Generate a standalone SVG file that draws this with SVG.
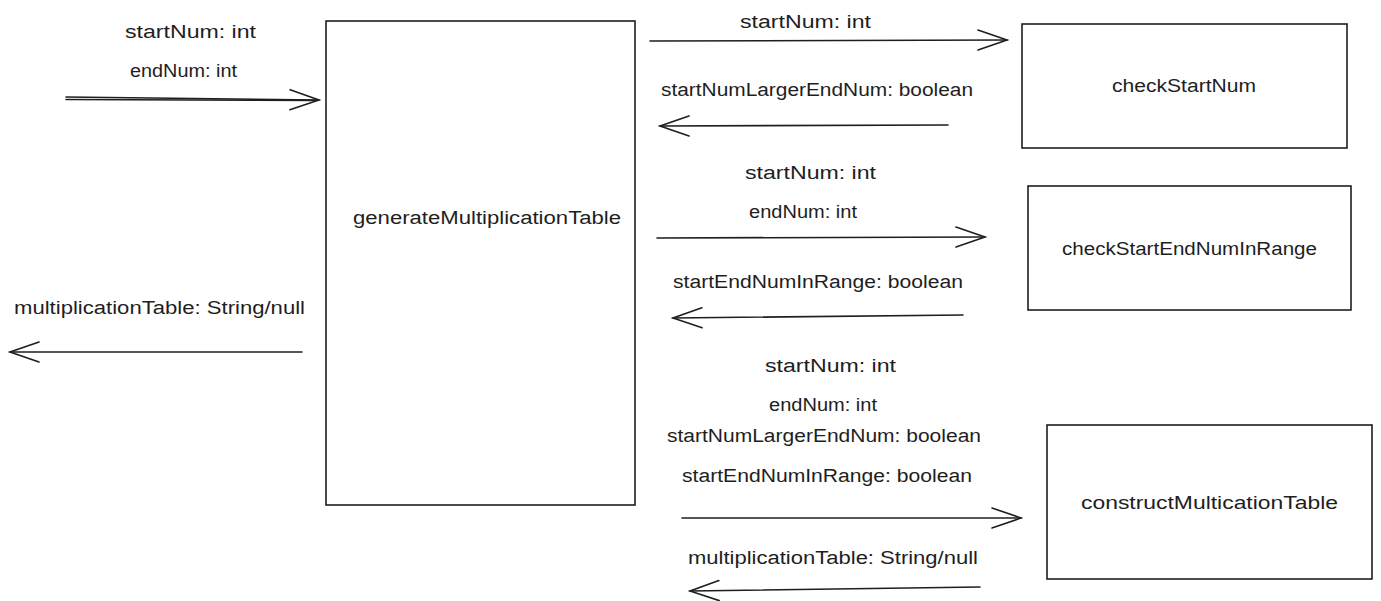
<svg xmlns="http://www.w3.org/2000/svg" width="1381" height="601" viewBox="0 0 1381 601">
<style>
.box{fill:#fff;stroke:#1e1e1e;stroke-width:1.6}
.c{fill:none;stroke:#1e1e1e;stroke-width:1.6;stroke-linecap:round}
text{font-family:"Liberation Sans",Arial,sans-serif;font-size:18px;fill:#1e1e1e}
</style>
<defs>
<marker id="ah" markerUnits="userSpaceOnUse" markerWidth="40" markerHeight="30" viewBox="-32 -15 40 30" refX="0" refY="0" orient="auto">
<path d="M-29,-10 L0,0 L-29,10" fill="none" stroke="#1e1e1e" stroke-width="1.6" stroke-linecap="round"/>
</marker>
</defs>
<rect width="1381" height="601" fill="#fff"/>
<g id="generateMultiplicationTable">
<rect class="box" x="326" y="21" width="309" height="484"/>
<text x="353" y="224" textLength="268" lengthAdjust="spacingAndGlyphs">generateMultiplicationTable</text>
</g>
<g id="checkStartNum">
<rect class="box" x="1022" y="24" width="325" height="124"/>
<text x="1112" y="92" textLength="144" lengthAdjust="spacingAndGlyphs">checkStartNum</text>
</g>
<g id="checkStartEndNumInRange">
<rect class="box" x="1028" y="186" width="323" height="124"/>
<text x="1062" y="255" textLength="255" lengthAdjust="spacingAndGlyphs">checkStartEndNumInRange</text>
</g>
<g id="constructMulticationTable">
<rect class="box" x="1047" y="425" width="325" height="154"/>
<text x="1081" y="509" textLength="257" lengthAdjust="spacingAndGlyphs">constructMulticationTable</text>
</g>
<g id="connectors">
<line class="c" x1="66" y1="97" x2="319" y2="100" marker-end="url(#ah)"/>
<line class="c" x1="66" y1="99.5" x2="316" y2="100.5"/>
<line class="c" x1="302" y1="352" x2="10" y2="352" marker-end="url(#ah)"/>
<line class="c" x1="650" y1="41" x2="1007" y2="40" marker-end="url(#ah)"/>
<line class="c" x1="948" y1="125" x2="660" y2="126" marker-end="url(#ah)"/>
<line class="c" x1="657" y1="238" x2="985" y2="237" marker-end="url(#ah)"/>
<line class="c" x1="963" y1="315" x2="673" y2="318" marker-end="url(#ah)"/>
<line class="c" x1="682" y1="518" x2="1021" y2="518" marker-end="url(#ah)"/>
<line class="c" x1="980" y1="587" x2="690" y2="591" marker-end="url(#ah)"/>
</g>
<g id="labels">
<text x="125" y="38" textLength="131" lengthAdjust="spacingAndGlyphs">startNum: int</text>
<text x="130" y="77" textLength="107" lengthAdjust="spacingAndGlyphs">endNum: int</text>
<text x="14" y="314" textLength="291" lengthAdjust="spacingAndGlyphs">multiplicationTable: String/null</text>
<text x="740" y="28" textLength="131" lengthAdjust="spacingAndGlyphs">startNum: int</text>
<text x="661" y="96" textLength="312" lengthAdjust="spacingAndGlyphs">startNumLargerEndNum: boolean</text>
<text x="745" y="179" textLength="131" lengthAdjust="spacingAndGlyphs">startNum: int</text>
<text x="749" y="218" textLength="108" lengthAdjust="spacingAndGlyphs">endNum: int</text>
<text x="673" y="288" textLength="290" lengthAdjust="spacingAndGlyphs">startEndNumInRange: boolean</text>
<text x="765" y="372" textLength="131" lengthAdjust="spacingAndGlyphs">startNum: int</text>
<text x="769" y="411" textLength="108" lengthAdjust="spacingAndGlyphs">endNum: int</text>
<text x="667" y="442" textLength="314" lengthAdjust="spacingAndGlyphs">startNumLargerEndNum: boolean</text>
<text x="682" y="482" textLength="290" lengthAdjust="spacingAndGlyphs">startEndNumInRange: boolean</text>
<text x="688" y="564" textLength="290" lengthAdjust="spacingAndGlyphs">multiplicationTable: String/null</text>
</g>
</svg>
